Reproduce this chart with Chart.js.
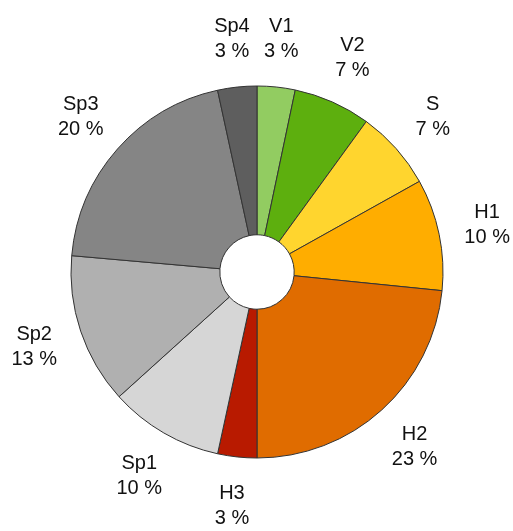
<!DOCTYPE html>
<html>
<head>
<meta charset="utf-8">
<script src="https://cdn.jsdelivr.net/npm/chart.js@4"></script>
<style>
html,body{margin:0;padding:0;background:#fff;}
#wrap{width:513px;height:531px;}
</style>
</head>
<body>
<div id="wrap"><canvas id="c" width="513" height="531"></canvas></div>
<script>
const categories = ["V1", "V2", "S", "H1", "H2", "H3", "Sp1", "Sp2", "Sp3", "Sp4"];
const shares = [3.3, 6.7, 6.9, 9.7, 23.4, 3.4, 9.9, 13.1, 20.2, 3.4];
const colors = ["#92CC61", "#5DAF0E", "#FFD52E", "#FFAD00", "#E06C00", "#B81A00", "#D6D6D6", "#B0B0B0", "#858585", "#5E5E5E"];

const labelPlugin = {
  id: 'outLabels',
  afterDraw(chart) {
    const ctx = chart.ctx;
    const meta = chart.getDatasetMeta(0);
    ctx.save();
    ctx.font = '20px "Liberation Sans", Arial, sans-serif';
    ctx.fillStyle = '#111';
    ctx.textAlign = 'center';
    ctx.textBaseline = 'middle';
    meta.data.forEach((arc, i) => {
      const p = arc.getProps(['x','y','startAngle','endAngle','outerRadius'], true);
      const mid = (p.startAngle + p.endAngle) / 2;
      const r = p.outerRadius + 49;
      const x = p.x + Math.cos(mid) * r;
      const y = p.y + Math.sin(mid) * r;
      ctx.fillText(categories[i], x, y - 12);
      ctx.fillText(Math.round(shares[i]) + ' %', x, y + 13);
    });
    ctx.restore();
  }
};

new Chart(document.getElementById('c'), {
  type: 'doughnut',
  data: {
    labels: categories,
    datasets: [{
      data: shares,
      backgroundColor: colors,
      borderColor: '#333',
      borderWidth: 1
    }]
  },
  options: {
    responsive: false,
    animation: false,
    radius: 186,
    cutout: '20%',
    layout: { padding: { left: 1, right: 0, top: 13, bottom: 0 } },
    plugins: { legend: { display: false }, tooltip: { enabled: false } }
  },
  plugins: [labelPlugin]
});
</script>
</body>
</html>
